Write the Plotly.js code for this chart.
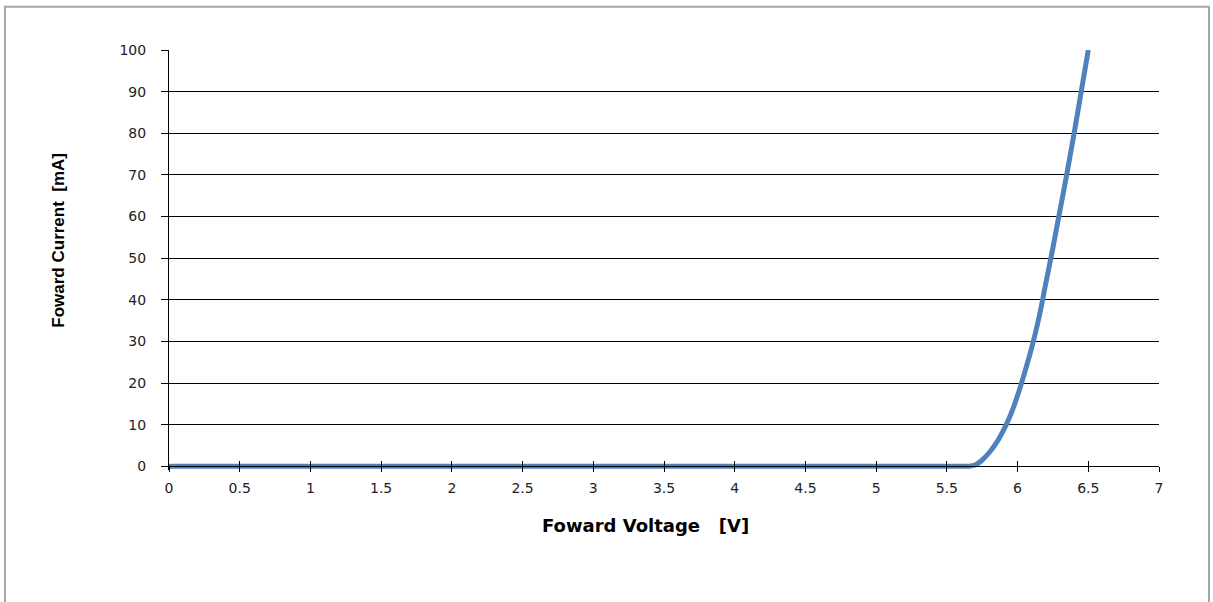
<!DOCTYPE html>
<html>
<head>
<meta charset="utf-8">
<script src="https://cdn.plot.ly/plotly-3.0.1.min.js"></script>
<style>
html,body{margin:0;padding:0;background:#fff;}
#chart{width:1213px;height:602px;}
</style>
</head>
<body>
<div id="chart"></div>
<script>
// Forward voltage [V] vs forward current [mA]
const voltage = [0, 0.5, 1, 1.5, 2, 2.5, 3, 3.5, 4, 4.5, 5, 5.5, 5.6, 5.65, 5.7, 5.75, 5.8, 5.85, 5.9, 5.95, 6.0, 6.05, 6.1, 6.15, 6.2, 6.25, 6.3, 6.35, 6.4, 6.45, 6.5];
const current = [0, 0, 0, 0, 0, 0, 0, 0, 0, 0, 0, 0, 0, 0, 0.3, 1.5, 3.3, 5.6, 8.6, 12.3, 17, 22.5, 28.5, 35.5, 44, 52.5, 61.5, 70.5, 80, 90, 100];

const xTicks = [0, 0.5, 1, 1.5, 2, 2.5, 3, 3.5, 4, 4.5, 5, 5.5, 6, 6.5, 7];
const xTickText = ['0', '0.5', '1', '1.5', '2', '2.5', '3', '3.5', '4', '4.5', '5', '5.5', '6', '6.5', '7'];
const yTicks = [0, 10, 20, 30, 40, 50, 60, 70, 80, 90, 100];

const xTitle = 'Foward Voltage   [V]';
const yTitle = 'Foward Current  [mA]';

const trace = {
  x: voltage,
  y: current,
  type: 'scatter',
  mode: 'lines',
  line: {color: '#4F81BD', width: 5, shape: 'spline', smoothing: 1},
  hoverinfo: 'skip',
  showlegend: false
};

// invisible helper trace on overlay axis to draw the "inside" half of crossing ticks
const helper = {
  x: [0, 7], y: [0, 0], xaxis: 'x2', type: 'scatter', mode: 'none',
  hoverinfo: 'skip', showlegend: false
};

const tickFont = {family: 'DejaVu Sans, sans-serif', size: 14, color: '#222'};
const yMin = -0.9;
const zeroPos = -yMin / (100 - yMin);

const layout = {
  width: 1213,
  height: 602,
  margin: {l: 169, r: 54, t: 50, b: 132},
  paper_bgcolor: '#ffffff',
  plot_bgcolor: '#ffffff',
  showlegend: false,
  xaxis: {
    range: [0, 7],
    anchor: 'free',
    position: zeroPos,
    tickmode: 'array',
    tickvals: xTicks,
    ticktext: xTickText,
    showgrid: false,
    zeroline: false,
    showline: true,
    linecolor: '#000',
    linewidth: 1,
    ticks: 'outside',
    ticklen: 5,
    tickcolor: '#000',
    tickwidth: 1,
    ticklabelstandoff: 4,
    tickfont: tickFont,
    fixedrange: true
  },
  xaxis2: {
    range: [0, 7],
    overlaying: 'x',
    anchor: 'free',
    position: zeroPos,
    side: 'bottom',
    tickmode: 'array',
    tickvals: xTicks,
    showticklabels: false,
    showgrid: false,
    zeroline: false,
    showline: false,
    ticks: 'inside',
    ticklen: 5,
    tickcolor: '#000',
    tickwidth: 1,
    fixedrange: true
  },
  yaxis: {
    range: [yMin, 100],
    tickmode: 'array',
    tickvals: yTicks,
    showgrid: true,
    gridcolor: '#000',
    gridwidth: 1,
    zeroline: false,
    showline: true,
    linecolor: '#000',
    linewidth: 1,
    ticks: 'outside',
    ticklen: 7,
    tickcolor: '#000',
    tickwidth: 1,
    ticklabelstandoff: 12,
    tickfont: tickFont,
    fixedrange: true
  },
  annotations: [
    {
      text: xTitle, xref: 'paper', yref: 'paper', x: 0.4818, y: -0.1313,
      xanchor: 'center', yanchor: 'middle', showarrow: false,
      font: {family: 'DejaVu Sans, sans-serif', size: 18, color: '#000', weight: 'bold'}
    },
    {
      text: yTitle, xref: 'paper', yref: 'paper', x: -0.1111, y: 0.546,
      xanchor: 'center', yanchor: 'middle', showarrow: false, textangle: -90,
      font: {family: 'Liberation Sans, Arial, sans-serif', size: 17, color: '#000', weight: 'bold'}
    }
  ],
  shapes: [
    {
      type: 'rect', xref: 'paper', yref: 'paper',
      x0: -0.1657, x1: 1.0505, y0: -0.6, y1: 1.103,
      line: {color: '#a6a6a6', width: 2}, fillcolor: 'rgba(0,0,0,0)', layer: 'below'
    }
  ]
};

Plotly.newPlot('chart', [trace, helper], layout, {displayModeBar: false, staticPlot: true});
</script>
</body>
</html>
